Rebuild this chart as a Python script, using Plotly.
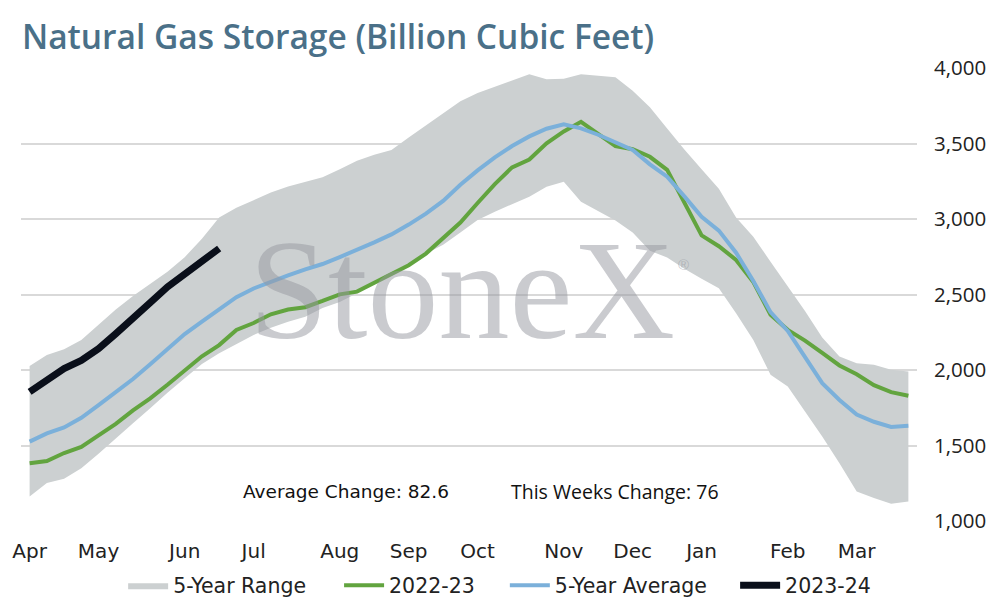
import plotly.graph_objects as go

# weekly points, Apr -> Mar (52 weeks)
weeks = list(range(52))

range_low = [1162, 1251, 1280, 1350, 1445, 1549, 1648, 1747, 1850, 1946, 2040, 2111,
             2170, 2232, 2280, 2320, 2353, 2410, 2450, 2508, 2580, 2640, 2700, 2770,
             2830, 2910, 2993, 3048, 3099, 3148, 3214, 3247, 3115, 3055, 2990, 2910,
             2790, 2745, 2670, 2605, 2541, 2376, 2199, 1968, 1890, 1725, 1560, 1383,
             1195, 1152, 1114, 1129]
range_high = [2027, 2100, 2138, 2199, 2300, 2400, 2490, 2570, 2651, 2747, 2870, 3010,
              3075, 3125, 3175, 3215, 3245, 3276, 3330, 3385, 3425, 3457, 3540, 3620,
              3700, 3780, 3835, 3875, 3915, 3958, 3925, 3928, 3958, 3948, 3938, 3850,
              3740, 3600, 3460, 3330, 3200, 3010, 2883, 2717, 2552, 2390, 2215, 2089,
              2045, 2034, 2001, 1990]
s2022_23 = [1382, 1397, 1450, 1490, 1567, 1643, 1732, 1812, 1902, 1999, 2091, 2165,
            2265, 2311, 2369, 2401, 2416, 2457, 2501, 2519, 2579, 2640, 2694, 2771,
            2874, 2977, 3106, 3231, 3342, 3394, 3501, 3580, 3644, 3564, 3483, 3462,
            3412, 3325, 3112, 2891, 2820, 2729, 2583, 2366, 2266, 2195, 2114, 2030,
            1972, 1900, 1853, 1830]
avg_5yr = [1526, 1580, 1620, 1683, 1767, 1850, 1940, 2038, 2140, 2238, 2320, 2400,
           2482, 2540, 2585, 2627, 2667, 2702, 2748, 2795, 2845, 2898, 2963, 3036,
           3120, 3227, 3322, 3408, 3483, 3547, 3598, 3627, 3600, 3558, 3508, 3457,
           3362, 3280, 3150, 3015, 2923, 2777, 2590, 2383, 2259, 2082, 1913, 1802,
           1705, 1657, 1623, 1630]
s2023_24 = [1855, 1930, 2009, 2063, 2141, 2240, 2336, 2446, 2550, 2634, 2729, 2805]

month_pos = [0, 4, 9, 13, 18, 22, 26, 31, 35, 39, 44, 48]
month_lbl = ["Apr", "May", "Jun", "Jul", "Aug", "Sep", "Oct", "Nov", "Dec", "Jan", "Feb", "Mar"]

avg_change = 82.6
week_change = 76

ROUND_FONT = "DejaVu Sans"
PLAIN_FONT = "Open Sans"

fig = go.Figure()

# 5-year range band
fig.add_trace(go.Scatter(x=weeks, y=range_low, mode="lines", line=dict(width=0),
                         showlegend=False, hoverinfo="skip"))
fig.add_trace(go.Scatter(x=weeks, y=range_high, mode="lines", line=dict(width=0),
                         fill="tonexty", fillcolor="#ccd0d1", name="5-Year Range",
                         legend="legend"))

fig.add_trace(go.Scatter(x=weeks, y=s2022_23, mode="lines", name="2022-23",
                         line=dict(color="#62a43f", width=4), legend="legend2"))
fig.add_trace(go.Scatter(x=weeks, y=avg_5yr, mode="lines", name="5-Year Average",
                         line=dict(color="#7bb0da", width=4), legend="legend3"))
fig.add_trace(go.Scatter(x=weeks[:len(s2023_24)], y=s2023_24, mode="lines", name="2023-24",
                         line=dict(color="#0a0f1a", width=7), legend="legend4"))

# watermark
fig.add_annotation(text="StoneX", x=0.492, y=0.511, xref="paper", yref="paper",
                   xanchor="center", yanchor="middle", showarrow=False,
                   font=dict(family="Liberation Serif", size=142,
                             color="rgba(150,152,160,0.5)"))
fig.add_annotation(text="®", x=0.739, y=0.567, xref="paper", yref="paper",
                   xanchor="center", yanchor="middle", showarrow=False,
                   font=dict(family="Liberation Sans", size=15,
                             color="rgba(150,152,160,0.5)"))

fig.add_annotation(text=f"Average Change: {avg_change}", x=0.363, y=0.066,
                   xref="paper", yref="paper", xanchor="center", yanchor="middle",
                   showarrow=False,
                   font=dict(family=ROUND_FONT, size=18.5, color="#111111"))
fig.add_annotation(text=f"This Weeks Change: {week_change}", x=0.663, y=0.066,
                   xref="paper", yref="paper", xanchor="center", yanchor="middle",
                   showarrow=False,
                   font=dict(family=PLAIN_FONT, size=19.5, color="#111111"))

leg_font = dict(family=ROUND_FONT, size=20.5, color="#222222")
leg_common = dict(orientation="h", yanchor="middle", y=-0.142, xanchor="left",
                  font=leg_font, itemwidth=40, bgcolor="rgba(0,0,0,0)")

fig.update_layout(
    width=995, height=606,
    margin=dict(l=13, r=86, t=60, b=93, autoexpand=False),
    paper_bgcolor="white", plot_bgcolor="white",
    title=dict(text="Natural Gas Storage (Billion Cubic Feet)", x=0.014, xanchor="left",
               y=0.952, yanchor="middle",
               font=dict(family=PLAIN_FONT, size=33.5, color="#4a7088", weight=600)),
    legend=dict(x=0.114, **leg_common),
    legend2=dict(x=0.355, **leg_common),
    legend3=dict(x=0.540, **leg_common),
    legend4=dict(x=0.797, **leg_common),
    showlegend=True,
)

fig.update_xaxes(range=[-0.5, 51.5], tickvals=month_pos, ticktext=month_lbl,
                 showgrid=False, zeroline=False, showline=False, tickangle=0,
                 ticks="", ticklabelstandoff=16,
                 tickfont=dict(family=ROUND_FONT, size=20, color="#222222"))
fig.update_yaxes(range=[1000, 4000], dtick=500, side="right", tickformat=",",
                 showgrid=True, gridcolor="#d9d9d9", gridwidth=1.5, zeroline=False,
                 showline=False, ticks="", ticklabelstandoff=16,
                 tickfont=dict(family=PLAIN_FONT, size=20.5, color="#222222"))

fig.write_html("out.html")
